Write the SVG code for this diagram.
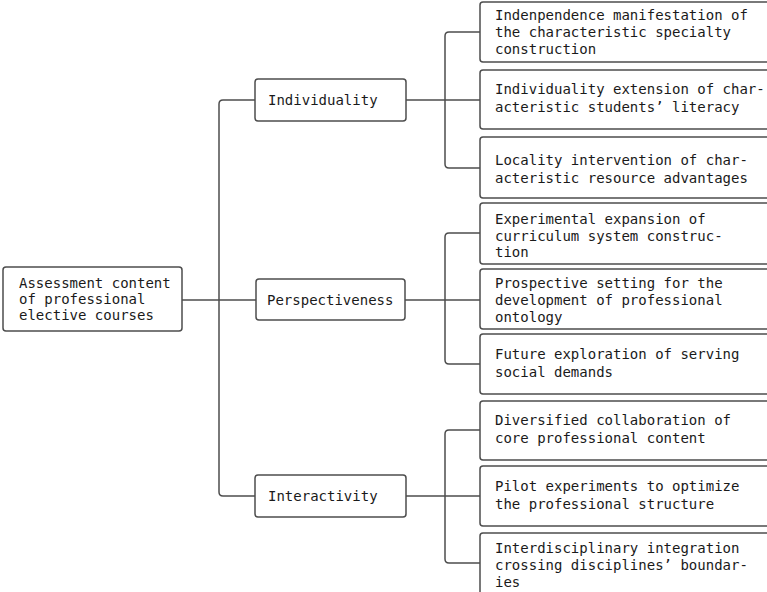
<svg xmlns="http://www.w3.org/2000/svg" width="767" height="592" viewBox="0 0 767 592">
<style>
.box{fill:#fff;stroke:#4d4d4d;stroke-width:1.5}
.t{font-family:"DejaVu Sans Mono","Liberation Mono",monospace;font-size:14px;fill:#1a1a1a}
.c{fill:none;stroke:#4d4d4d;stroke-width:1.5}
</style>
<rect width="767" height="592" fill="#fff"/>
<g id="connectors">
<path class="c" d="M182,300 H256"/>
<path class="c" d="M255,100 H223 Q219,100 219,104 V492 Q219,496 223,496 H255"/>
<path class="c" d="M406,100 H480"/>
<path class="c" d="M480,32 H449 Q445,32 445,36 V164 Q445,168 449,168 H480"/>
<path class="c" d="M405,300 H480"/>
<path class="c" d="M480,233 H449 Q445,233 445,237 V360 Q445,364 449,364 H480"/>
<path class="c" d="M406,496 H480"/>
<path class="c" d="M480,430 H449 Q445,430 445,434 V559 Q445,563 449,563 H480"/>
</g>
<g id="root">
<rect class="box" x="3" y="267" width="179" height="64" rx="3"/>
<text class="t" x="19"><tspan x="19" y="288">Assessment content</tspan><tspan x="19" y="304">of professional</tspan><tspan x="19" y="320">elective courses</tspan></text>
</g>
<g id="individuality">
<rect class="box" x="255" y="79" width="151" height="42" rx="3"/>
<text class="t" x="268" y="105">Individuality</text>
</g>
<g id="perspectiveness">
<rect class="box" x="256" y="279" width="149" height="41" rx="3"/>
<text class="t" x="267" y="305">Perspectiveness</text>
</g>
<g id="interactivity">
<rect class="box" x="255" y="475" width="151" height="42" rx="3"/>
<text class="t" x="268" y="501">Interactivity</text>
</g>
<g id="leaf1">
<rect class="box" x="480" y="2" width="300" height="60" rx="3"/>
<text class="t"><tspan x="495" y="20">Indenpendence manifestation of</tspan><tspan x="495" y="37">the characteristic specialty</tspan><tspan x="495" y="54">construction</tspan></text>
</g>
<g id="leaf2">
<rect class="box" x="480" y="70" width="300" height="59" rx="3"/>
<text class="t"><tspan x="495" y="94">Individuality extension of char-</tspan><tspan x="495" y="112">acteristic students’ literacy</tspan></text>
</g>
<g id="leaf3">
<rect class="box" x="480" y="137" width="300" height="61" rx="3"/>
<text class="t"><tspan x="495" y="165">Locality intervention of char-</tspan><tspan x="495" y="183">acteristic resource advantages</tspan></text>
</g>
<g id="leaf4">
<rect class="box" x="480" y="203" width="300" height="61" rx="3"/>
<text class="t"><tspan x="495" y="224">Experimental expansion of</tspan><tspan x="495" y="241">curriculum system construc-</tspan><tspan x="495" y="257">tion</tspan></text>
</g>
<g id="leaf5">
<rect class="box" x="480" y="269" width="300" height="60" rx="3"/>
<text class="t"><tspan x="495" y="288">Prospective setting for the</tspan><tspan x="495" y="305">development of professional</tspan><tspan x="495" y="322">ontology</tspan></text>
</g>
<g id="leaf6">
<rect class="box" x="480" y="334" width="300" height="60" rx="3"/>
<text class="t"><tspan x="495" y="359">Future exploration of serving</tspan><tspan x="495" y="377">social demands</tspan></text>
</g>
<g id="leaf7">
<rect class="box" x="480" y="401" width="300" height="59" rx="3"/>
<text class="t"><tspan x="495" y="425">Diversified collaboration of</tspan><tspan x="495" y="443">core professional content</tspan></text>
</g>
<g id="leaf8">
<rect class="box" x="480" y="466" width="300" height="60" rx="3"/>
<text class="t"><tspan x="495" y="491">Pilot experiments to optimize</tspan><tspan x="495" y="509">the professional structure</tspan></text>
</g>
<g id="leaf9">
<rect class="box" x="480" y="533" width="300" height="70" rx="3"/>
<text class="t"><tspan x="495" y="553">Interdisciplinary integration</tspan><tspan x="495" y="570">crossing disciplines’ boundar-</tspan><tspan x="495" y="587">ies</tspan></text>
</g>
</svg>
